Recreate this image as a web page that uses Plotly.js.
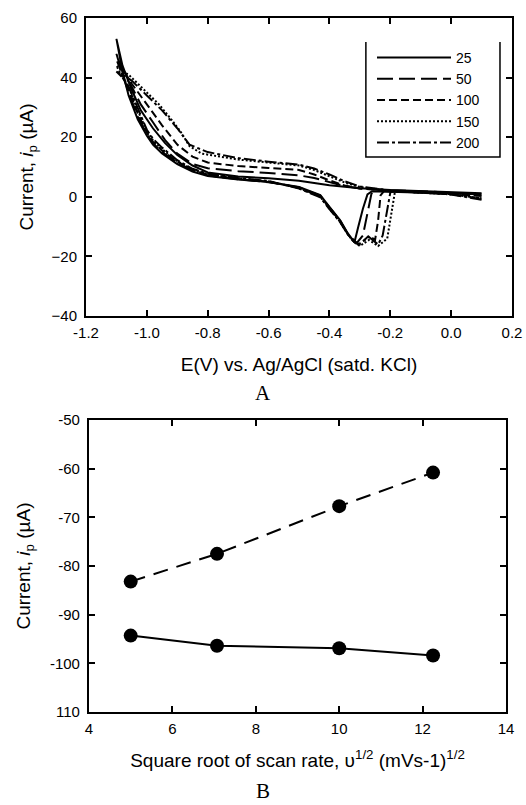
<!DOCTYPE html>
<html><head><meta charset="utf-8">
<script src="https://cdn.plot.ly/plotly-3.0.1.min.js"></script>
<style>html,body{margin:0;padding:0;background:#fff}#c{width:526px;height:805px}</style>
</head><body><div id="c"></div>
<script>
// ---- Panel A: cyclic voltammograms at different scan rates (mV/s) ----
const scanRates = ["25", "50", "100", "150", "200"];

const E25 = [0.10, 0.05, 0.00, -0.10, -0.20, -0.26, -0.275, -0.29, -0.305, -0.318, -0.34, -0.365, -0.40, -0.43, -0.50, -0.60, -0.70, -0.80, -0.85, -0.90, -0.95, -0.98, -1.00, -1.03, -1.06, -1.08, -1.10,
  -1.08, -1.05, -1.02, -0.98, -0.94, -0.90, -0.85, -0.80, -0.70, -0.60, -0.50, -0.40, -0.30, -0.20, -0.10, 0.00, 0.10];
const I25 = [1.2, 1.0, 1.1, 1.4, 1.7, 1.9, 0.8, -4, -10, -15.3, -12.2, -7.8, -3.4, 0.6, 3.3, 5.0, 5.8, 7.0, 8.5, 11.0, 14.5, 17.5, 20.5, 26, 34, 42, 53,
  44, 36, 29, 23, 18, 14, 10.5, 8.2, 6.8, 6.2, 5.4, 3.9, 2.9, 2.3, 1.9, 1.6, 1.2];

const E50 = [0.10, 0.05, 0.00, -0.10, -0.20, -0.25, -0.262, -0.275, -0.29, -0.31, -0.34, -0.365, -0.40, -0.43, -0.50, -0.60, -0.70, -0.80, -0.85, -0.90, -0.95, -0.98, -1.00, -1.03, -1.06, -1.08, -1.10,
  -1.08, -1.05, -1.02, -0.98, -0.94, -0.90, -0.85, -0.80, -0.70, -0.60, -0.50, -0.45, -0.40, -0.35, -0.30, -0.20, -0.10, 0.00, 0.10];
const I50 = [0.8, 0.9, 1.2, 1.5, 1.8, 2.0, 1.0, -6, -13, -15.5, -12.4, -8, -3.6, 0.4, 3.2, 4.9, 5.9, 7.2, 8.8, 11.5, 15, 18, 21, 27, 35, 41, 48,
  42, 37, 31, 25, 19, 14.5, 11, 9.6, 8.6, 8.0, 7.2, 6.3, 5.0, 3.6, 2.8, 2.2, 1.9, 1.4, 0.8];

const E100 = [0.10, 0.05, 0.00, -0.10, -0.20, -0.22, -0.232, -0.24, -0.25, -0.27, -0.30, -0.32, -0.34, -0.365, -0.40, -0.43, -0.50, -0.60, -0.70, -0.80, -0.85, -0.90, -0.95, -0.98, -1.00, -1.03, -1.06, -1.08, -1.10,
  -1.08, -1.05, -1.00, -0.95, -0.90, -0.85, -0.80, -0.70, -0.60, -0.50, -0.45, -0.40, -0.35, -0.30, -0.20, -0.10, 0.00, 0.10];
const I100 = [0.3, 0.6, 1.0, 1.4, 1.9, 2.0, 0.5, -8, -14.5, -13, -16, -15, -12.5, -8.2, -3.8, 0.2, 3.0, 5.1, 6.0, 7.4, 9.0, 11.8, 15.5, 18.5, 21.5, 28, 36, 41, 46,
  43, 38, 31, 24, 17.5, 13.5, 11.5, 10.3, 9.7, 9.0, 7.5, 5.5, 3.8, 2.8, 2.0, 1.5, 1.0, 0.3];

const E150 = [0.10, 0.05, 0.00, -0.10, -0.17, -0.185, -0.195, -0.21, -0.24, -0.27, -0.30, -0.32, -0.34, -0.365, -0.40, -0.43, -0.50, -0.60, -0.70, -0.80, -0.85, -0.90, -0.95, -0.98, -1.00, -1.03, -1.06, -1.08, -1.10,
  -1.08, -1.06, -1.02, -0.96, -0.92, -0.89, -0.86, -0.82, -0.70, -0.60, -0.50, -0.45, -0.40, -0.35, -0.30, -0.20, -0.10, 0.00, 0.10];
const I150 = [-0.5, 0.3, 0.9, 1.5, 2.0, 1.5, -5, -14, -16.5, -14.5, -16.5, -15.2, -12.5, -8.4, -4, 0, 2.9, 5.2, 6.2, 7.6, 9.2, 12, 16, 19, 22, 29, 37, 40, 44,
  42, 41, 37, 31, 26, 22, 17, 14.5, 12.5, 11.5, 10.5, 9.0, 7.0, 4.8, 3.3, 2.0, 1.4, 0.8, -0.5];

const E200 = [0.10, 0.05, 0.00, -0.10, -0.19, -0.20, -0.21, -0.225, -0.24, -0.27, -0.305, -0.32, -0.34, -0.365, -0.40, -0.43, -0.50, -0.60, -0.70, -0.80, -0.85, -0.90, -0.95, -0.98, -1.00, -1.03, -1.06, -1.08, -1.10,
  -1.08, -1.05, -1.00, -0.95, -0.90, -0.86, -0.80, -0.70, -0.60, -0.50, -0.45, -0.40, -0.35, -0.30, -0.20, -0.10, 0.00, 0.10];
const I200 = [-1.0, 0.2, 0.8, 1.4, 2.0, 1.4, -4, -13, -16, -13.5, -16, -15, -12.6, -8.5, -4.1, -0.2, 2.8, 5.3, 6.3, 7.8, 9.4, 12.3, 16.5, 19.5, 22.5, 30, 37, 40, 42,
  41, 39, 34, 29, 23, 17.5, 15, 13, 11.8, 10.8, 9.5, 7.5, 5.2, 3.5, 2.1, 1.5, 0.8, -1.0];

const topXTicks = [-1.2, -1.0, -0.8, -0.6, -0.4, -0.2, 0.0, 0.2];
const topXTickText = ["-1.2", "-1.0", "-0.8", "-0.6", "-0.4", "-0.2", "0.0", "0.2"];
const topYTicks = [-40, -20, 0, 20, 40, 60];

// ---- Panel B: peak current vs square root of scan rate ----
const sqrtRate = [5, 7.07, 10, 12.25];
const peakDashed = [-83.2, -77.5, -67.7, -60.8];
const peakSolid = [-94.3, -96.4, -96.9, -98.4];
const botYTicks = [-110, -100, -90, -80, -70, -60, -50];
const botYTickText = ["110", "-100", "-90", "-80", "-70", "-60", "-50"];
const botXTicks = [4, 6, 8, 10, 12, 14];

const dashes = ["solid", "16px,6px", "8px,4px", "2px,2px", "12px,3px,3px,3px"];
const Es = [E25, E50, E100, E150, E200];
const Is = [I25, I50, I100, I150, I200];

const FONT = "Liberation Sans, Arial, sans-serif";
const traces = [];
for (let k = 0; k < scanRates.length; k++) {
  traces.push({
    x: Es[k], y: Is[k], type: "scatter", mode: "lines", name: scanRates[k],
    line: {color: "#000", width: 2, dash: dashes[k]},
    xaxis: "x", yaxis: "y", showlegend: true
  });
}
traces.push({
  x: sqrtRate, y: peakDashed, type: "scatter", mode: "lines+markers",
  line: {color: "#000", width: 2, dash: "15px,9px"},
  marker: {color: "#000", size: 14}, xaxis: "x2", yaxis: "y2", showlegend: false
});
traces.push({
  x: sqrtRate, y: peakSolid, type: "scatter", mode: "lines+markers",
  line: {color: "#000", width: 2},
  marker: {color: "#000", size: 14}, xaxis: "x2", yaxis: "y2", showlegend: false
});

const axCommon = {
  showgrid: false, zeroline: false, showline: true, linecolor: "#000", linewidth: 2,
  mirror: "ticks", ticks: "inside", ticklen: 6, tickwidth: 2, tickcolor: "#000",
  tickfont: {family: FONT, size: 15, color: "#000"}
};
const titleFont = {family: FONT, size: 19, color: "#000"};

const layout = {
  width: 526, height: 805,
  margin: {l: 86, r: 14, t: 18, b: 93},
  paper_bgcolor: "#fff", plot_bgcolor: "#fff",
  font: {family: FONT, color: "#000"},
  showlegend: true,
  legend: {
    x: (372 - 86) / 426, y: 0.9654, xanchor: "left", yanchor: "top",
    bgcolor: "rgba(255,255,255,0)", borderwidth: 0,
    font: {family: FONT, size: 14, color: "#000"},
    itemwidth: 74, tracegroupgap: 0
  },
  xaxis: Object.assign({}, axCommon, {
    domain: [0, 1], anchor: "y", range: [-1.2, 0.2],
    tickvals: topXTicks, ticktext: topXTickText, ticklabelstandoff: 2,
    title: {text: "E(V) vs. Ag/AgCl (satd. KCl)", font: titleFont, standoff: 18}
  }),
  yaxis: Object.assign({}, axCommon, {
    domain: [0.5706, 1], anchor: "x", range: [-40, 60], tickvals: topYTicks, ticklabelstandoff: 4,
    title: {text: "Current, <i>i</i><sub>p</sub> (µA)", font: titleFont, standoff: 13}
  }),
  xaxis2: Object.assign({}, axCommon, {
    domain: [0.007, 0.986], anchor: "y2", range: [4, 14], tickvals: botXTicks, ticklabelstandoff: 2,
    title: {text: "Square root of scan rate, υ<sup>1/2</sup> (mVs-1)<sup>1/2</sup>", font: titleFont, standoff: 18}
  }),
  yaxis2: Object.assign({}, axCommon, {
    domain: [0, 0.4207], anchor: "x2", range: [-110, -50], ticklabelstandoff: 4,
    tickvals: botYTicks, ticktext: botYTickText,
    title: {text: "Current, <i>i</i><sub>p</sub> (µA)", font: titleFont, standoff: 14}
  }),
  shapes: [{
    type: "path", xref: "paper", yref: "paper",
    path: "M0.657,0.9654 L0.657,0.7997 L0.9718,0.7997 L0.9718,0.9654",
    line: {color: "#000", width: 1.5}
  }],
  annotations: [
    {text: "A", xref: "paper", yref: "paper", x: 0.416, y: 1 - (393 - 18) / 694, yanchor: "middle", showarrow: false,
     font: {family: "Liberation Serif, Times New Roman, serif", size: 21, color: "#000"}},
    {text: "B", xref: "paper", yref: "paper", x: 0.416, y: 1 - (791 - 18) / 694, yanchor: "middle", showarrow: false,
     font: {family: "Liberation Serif, Times New Roman, serif", size: 21, color: "#000"}}
  ]
};

Plotly.newPlot("c", traces, layout, {displayModeBar: false, staticPlot: true});
</script></body></html>
